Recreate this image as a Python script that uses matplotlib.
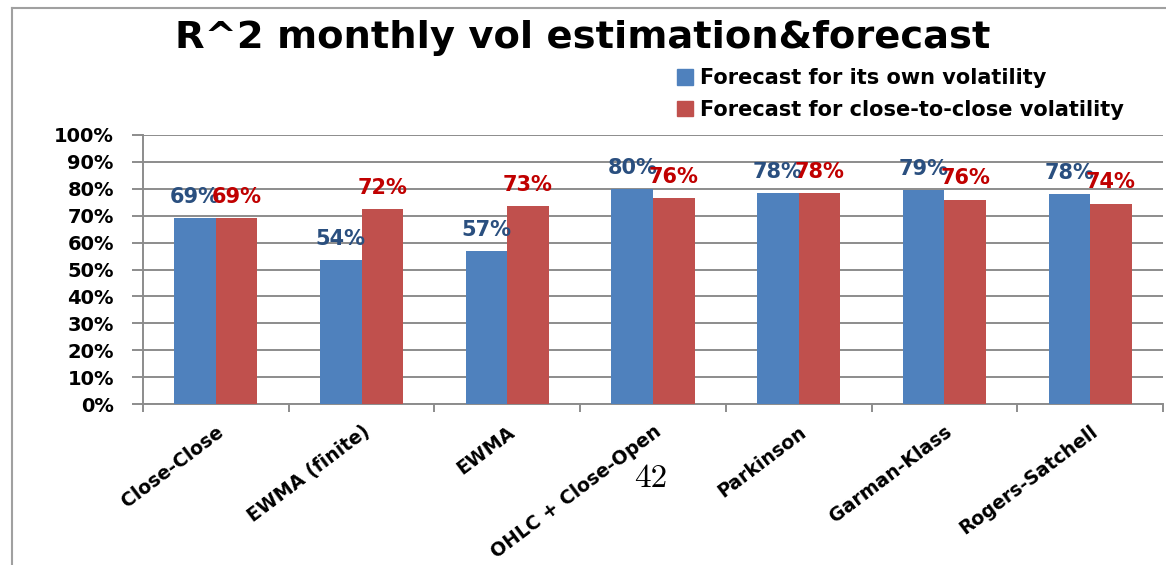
import numpy as np
import matplotlib.pyplot as plt
from matplotlib.lines import Line2D
from matplotlib.patches import Patch

# chart data
methods = ['Close-Close', 'EWMA (finite)', 'EWMA', 'OHLC + Close-Open',
           'Parkinson', 'Garman-Klass', 'Rogers-Satchell']
own_vol = [0.69, 0.535, 0.57, 0.80, 0.785, 0.795, 0.78]
own_lbl = ['69%', '54%', '57%', '80%', '78%', '79%', '78%']
cc_vol = [0.69, 0.725, 0.735, 0.765, 0.785, 0.76, 0.745]
cc_lbl = ['69%', '72%', '73%', '76%', '78%', '76%', '74%']
series_names = ['Forecast for its own volatility',
                'Forecast for close-to-close volatility']

plt.rcParams['font.family'] = ['DejaVu Sans']
plt.rcParams['font.weight'] = 'bold'

blue = '#4F81BD'
red = '#C0504D'
grid_c = '#8C8C8C'

fig = plt.figure(figsize=(11.66, 5.65), dpi=100)
ax = fig.add_axes([143 / 1166, 1 - 404 / 565, 1020 / 1166, 269 / 565])

x = np.arange(len(methods))
w = 0.285
b1 = ax.bar(x - w / 2, own_vol, w, color=blue, zorder=3)
b2 = ax.bar(x + w / 2, cc_vol, w, color=red, zorder=3)

# value labels (they overlap a bit, like the original)
for rect, t in zip(b1, own_lbl):
    ax.annotate(t, (rect.get_x() + rect.get_width() / 2, rect.get_height()),
                xytext=(0, 8), textcoords='offset points', ha='center',
                va='bottom', fontsize=15, fontweight='bold', color='#2A4F7F',
                zorder=5)
for rect, t in zip(b2, cc_lbl):
    ax.annotate(t, (rect.get_x() + rect.get_width() / 2, rect.get_height()),
                xytext=(0, 8), textcoords='offset points', ha='center',
                va='bottom', fontsize=15, fontweight='bold', color='#C00000',
                zorder=5)

ax.set_xlim(-0.5, len(methods) - 0.5)
ax.set_ylim(0, 1.0)
ax.set_yticks(np.arange(0, 1.01, 0.1))
ax.set_yticklabels(['%d%%' % v for v in range(0, 101, 10)],
                   fontsize=14, fontweight='bold')
ax.yaxis.grid(True, color=grid_c, linewidth=1.4, zorder=0)
ax.tick_params(axis='y', length=8, width=1.4, color=grid_c, pad=13)

ax.set_xticks(x)
ax.set_xticklabels(methods, rotation=37, ha='right', rotation_mode='anchor',
                   fontsize=13.6, fontweight='bold')
ax.tick_params(axis='x', which='major', length=0, pad=13)
ax.set_xticks(np.arange(-0.5, len(methods), 1), minor=True)
ax.tick_params(axis='x', which='minor', length=6, width=1.4, color=grid_c)

for s in ['top', 'right']:
    ax.spines[s].set_visible(False)
for s in ['left', 'bottom']:
    ax.spines[s].set_color(grid_c)
    ax.spines[s].set_linewidth(1.4)

fig.text(0.5, 1 - 38 / 565, 'R^2 monthly vol estimation&forecast',
         ha='center', va='center', fontsize=27.7, fontweight='bold')

handles = [Patch(color=blue), Patch(color=red)]
fig.legend(handles, series_names, loc='center left',
           bbox_to_anchor=(669 / 1166, 1 - 94 / 565), frameon=False,
           fontsize=15, handlelength=0.75, handleheight=0.75,
           handletextpad=0.35, labelspacing=0.55, borderaxespad=0)

# slide page number and frame
fig.text(651 / 1166, 1 - 478 / 565, '42', ha='center', va='center',
         fontsize=24, family='cmr10', fontweight='normal')
fig.add_artist(Line2D([12 / 1166, 12 / 1166], [0, 1 - 8 / 565],
                      color='#A0A0A0', linewidth=1.5))
fig.add_artist(Line2D([12 / 1166, 1], [1 - 8 / 565, 1 - 8 / 565],
                      color='#A0A0A0', linewidth=1.5))

fig.savefig('out.png', dpi=100)
